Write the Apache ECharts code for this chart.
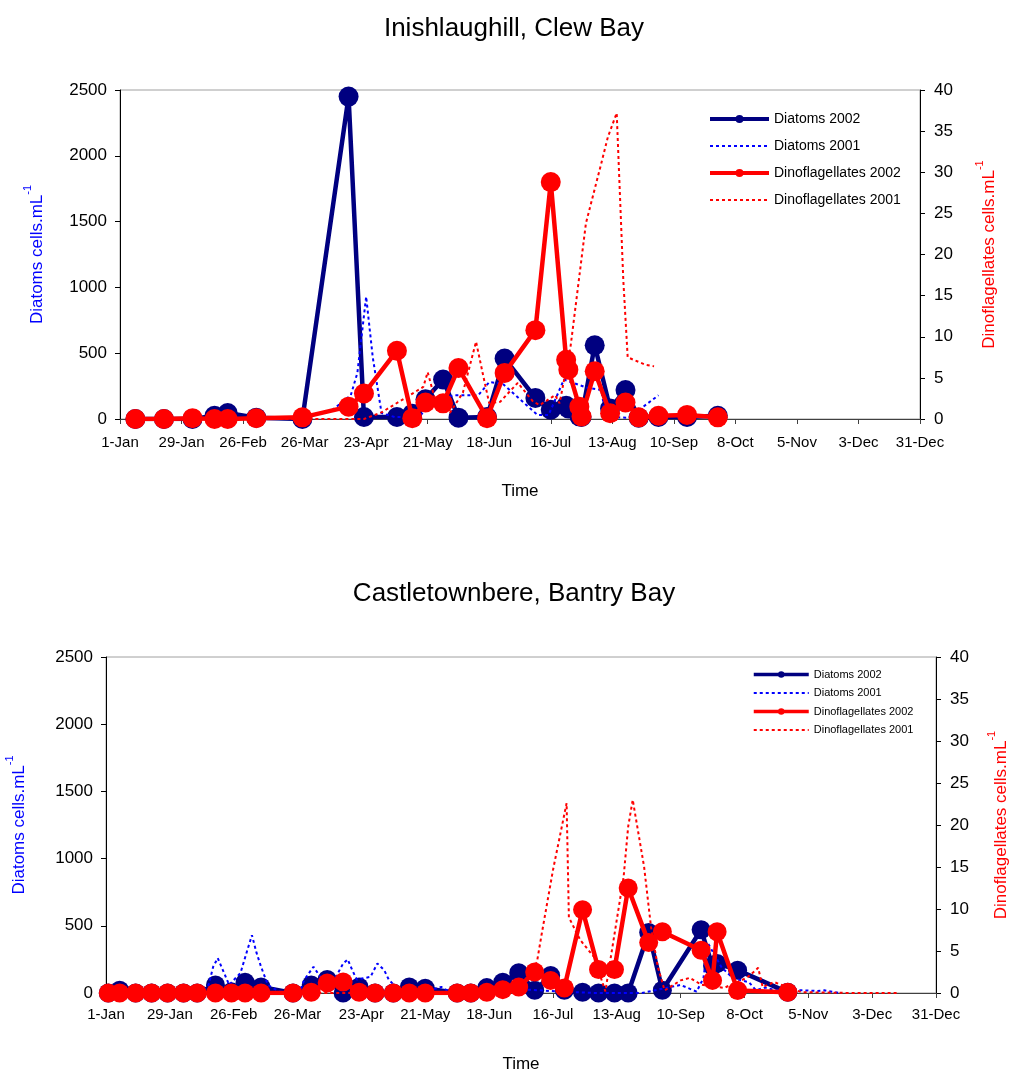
<!DOCTYPE html>
<html>
<head>
<meta charset="utf-8">
<script src="https://cdn.jsdelivr.net/npm/echarts@6/dist/echarts.min.js"></script>
<style>html,body{margin:0;padding:0;background:#fff;}#c{width:1011px;height:1070px;}</style>
</head>
<body>
<div id="c"></div>
<script>
// ---------- tick labels (x axis: day of year, every 28 days) ----------
const xTickLabels = ['1-Jan','29-Jan','26-Feb','26-Mar','23-Apr','21-May','18-Jun','16-Jul','13-Aug','10-Sep','8-Oct','5-Nov','3-Dec','31-Dec'];
const seriesNames = ['Diatoms 2002','Diatoms 2001','Dinoflagellates 2002','Dinoflagellates 2001'];
const titles = ['Inishlaughill, Clew Bay','Castletownbere, Bantry Bay'];

// ---------- Inishlaughill, Clew Bay ----------
const topDays2002      = [7,20,33,43,49,62,83,104,111,126,133,139,147,154,167,175,189,196,203,204,209,210,216,223,230,236,245,258,272];
const topDiatoms2002   = [0,0,0,25,45,10,0,2450,15,15,40,150,300,10,15,460,160,70,100,80,20,15,560,80,220,10,15,15,25];
const topDino2002      = [0,0,0.1,0,0,0.1,0.2,1.5,3.1,8.3,0.1,2.0,1.9,6.2,0.1,5.6,10.8,28.8,7.2,6.0,1.5,0.3,5.8,0.7,2.0,0.2,0.4,0.5,0.2];
const topDiatoms2001Days = [7,36,64,82,96,105,108,112,115,119,125,136,143,152,163,168,174,190,195,202,212,219,221,231,237,245];
const topDiatoms2001     = [0,0,0,5,60,180,350,930,470,45,15,15,145,180,180,280,270,30,30,300,240,220,15,10,80,180];
const topDino2001Days  = [7,70,97,111,119,138,140,143,150,156,162,165,168,173,181,188,191,198,200,205,212,219,222,226,229,231,239,243];
const topDino2001      = [0,0,0,0,0.8,3.9,5.7,2.7,0.7,3.2,9.4,5.6,1.9,2.1,4.4,2.1,1.7,2.9,1.9,8.8,23.8,31.1,34.3,37.2,16.9,7.5,6.6,6.4];

// ---------- Castletownbere, Bantry Bay ----------
const botDays2002      = [1,6,13,20,27,34,40,48,55,61,68,82,90,97,104,111,118,126,133,140,154,160,167,174,181,188,195,201,209,216,223,229,238,244,261,266,268,277,299];
const botDiatoms2002   = [0,20,0,0,0,0,0,60,10,80,45,0,60,100,0,45,0,0,45,35,0,0,40,80,150,20,130,20,5,0,0,0,450,20,470,200,220,170,5];
const botDino2002      = [0,0,0,0,0,0,0,0,0,0,0,0,0.1,1.2,1.3,0.1,0,0,0,0,0,0,0.1,0.4,0.7,2.5,1.5,0.6,9.9,2.8,2.8,12.5,6.0,7.3,5.1,1.5,7.3,0.3,0.1];
const botDiatoms2001Days = [1,19,41,45,47,49,51,54,59,62,64,66,68,71,76,85,87,91,94,98,104,106,108,110,116,119,122,124,129,140,147,151,165,180,190,200,215,235,252,259,262,264,270,275,282,285,289,294,306,312,315,322];
const botDiatoms2001     = [0,0,0,60,195,260,180,60,150,320,430,300,195,60,10,10,100,195,120,30,220,250,170,100,120,220,170,100,10,10,45,5,10,30,20,10,0,0,60,10,110,370,190,110,80,20,40,20,20,15,20,0];
const botDino2001Days  = [1,85,151,173,183,189,191,196,199,202,203,208,214,219,227,229,231,233,236,239,242,245,252,256,261,271,281,284,286,288,293,305,327,348];
const botDino2001      = [0,0,0,0.3,1.2,3.7,6.9,14.6,18.6,22.6,9.0,6.3,4.3,0.2,13.8,19.8,23.0,19.8,15.0,7.9,3.1,0.3,1.5,1.8,1.0,0.6,1.8,2.5,3.0,0.7,1.3,0.1,0,0];

const FONT = "'Liberation Sans', Arial, Helvetica, sans-serif";
const NAVY = '#000080', BLUE = '#0000ff', RED = '#ff0000';

function zip(xs, ys) { return xs.map((x, i) => [x, ys[i]]); }

const chart = echarts.init(document.getElementById('c'), null, {renderer: 'canvas'});

const grids = [
  {left: 120, top: 90, width: 800, height: 329, show: true, borderColor: '#a0a0a0', borderWidth: 1,
   containLabel: false, outerBoundsMode: 'none'},
  {left: 106, top: 657, width: 830, height: 336, show: true, borderColor: '#a0a0a0', borderWidth: 1,
   containLabel: false, outerBoundsMode: 'none'}
];

function xAxisFor(gi, nameGap, margin) {
  return {
    type: 'value', gridIndex: gi, min: 0, max: 364, interval: 28,
    name: 'Time', nameLocation: 'middle', nameGap: nameGap,
    nameTextStyle: {fontFamily: FONT, fontSize: 17, color: '#000'},
    axisLine: {show: true, onZero: false, lineStyle: {color: '#404040', width: 1}},
    axisTick: {show: true, length: 5, lineStyle: {color: '#404040'}},
    axisLabel: {fontFamily: FONT, fontSize: 15, color: '#000', margin: margin,
      formatter: v => xTickLabels[Math.round(v / 28)] || ''},
    splitLine: {show: false}
  };
}
function yAxisFor(gi, side, max, interval, label, color, nameGap) {
  return {
    type: 'value', gridIndex: gi, position: side, min: 0, max: max, interval: interval,
    name: '{b|' + label + '}{s|-1}', nameLocation: 'middle', nameRotate: 90, nameGap: nameGap,
    nameTextStyle: {fontFamily: FONT, color: color,
      rich: {
        b: {fontFamily: FONT, fontSize: 17, color: color, lineHeight: 24, verticalAlign: 'bottom'},
        s: {fontFamily: FONT, fontSize: 11, color: color, lineHeight: 12, verticalAlign: 'top'}
      }},
    axisLine: {show: true, onZero: false, lineStyle: {color: '#000', width: 1}},
    axisTick: {show: true, length: 5, lineStyle: {color: '#000'}},
    axisLabel: {fontFamily: FONT, fontSize: 17, color: '#000', margin: side === 'left' ? 13 : 14,
      formatter: v => String(v)},
    splitLine: {show: false}
  };
}

function seriesFor(gi, d02, diat02, dino02, d01a, diat01, d01b, dino01, symSize) {
  const xi = gi, yl = gi * 2, yr = gi * 2 + 1;
  return [
    {name: seriesNames[0], type: 'line', xAxisIndex: xi, yAxisIndex: yl, data: zip(d02, diat02),
     symbol: 'circle', symbolSize: symSize, showSymbol: true,
     lineStyle: {color: NAVY, width: 4.5}, itemStyle: {color: NAVY}, z: 2},
    {name: seriesNames[1], type: 'line', xAxisIndex: xi, yAxisIndex: yl, data: zip(d01a, diat01),
     symbol: 'none', lineStyle: {color: BLUE, width: 2, type: [3, 3]}, itemStyle: {color: BLUE}, z: 3},
    {name: seriesNames[2], type: 'line', xAxisIndex: xi, yAxisIndex: yr, data: zip(d02, dino02),
     symbol: 'circle', symbolSize: symSize, showSymbol: true,
     lineStyle: {color: RED, width: 4.5}, itemStyle: {color: RED}, z: 4},
    {name: seriesNames[3], type: 'line', xAxisIndex: xi, yAxisIndex: yr, data: zip(d01b, dino01),
     symbol: 'none', lineStyle: {color: RED, width: 2, type: [3, 3]}, itemStyle: {color: RED}, z: 5}
  ];
}

function legendData(thick) {
  return [
    {name: seriesNames[0], lineStyle: {width: thick}},
    {name: seriesNames[1], itemStyle: {opacity: 0}, lineStyle: {width: 2, type: [3, 3]}},
    {name: seriesNames[2], lineStyle: {width: thick}},
    {name: seriesNames[3], itemStyle: {opacity: 0}, lineStyle: {width: 2, type: [3, 3]}}
  ];
}

const option = {
  backgroundColor: '#fff',
  animation: false,
  title: [
    {text: titles[0], left: 509, top: 11, textAlign: 'center',
     textStyle: {fontFamily: FONT, fontSize: 26, fontWeight: 'normal', color: '#000'}},
    {text: titles[1], left: 509, top: 576, textAlign: 'center',
     textStyle: {fontFamily: FONT, fontSize: 26, fontWeight: 'normal', color: '#000'}}
  ],
  legend: [
    {data: legendData(4), orient: 'vertical', left: 708, top: 112, padding: 0, itemWidth: 59, itemHeight: 10, itemGap: 13,
     textStyle: {fontFamily: FONT, fontSize: 14, color: '#000'}, selectedMode: false},
    {data: legendData(3.5), orient: 'vertical', left: 752, top: 669, padding: 0, itemWidth: 55, itemHeight: 8, itemGap: 7.5,
     textStyle: {fontFamily: FONT, fontSize: 11, color: '#000'}, selectedMode: false}
  ],
  grid: grids,
  xAxis: [xAxisFor(0, 64, 16), xAxisFor(1, 63, 14)],
  yAxis: [
    yAxisFor(0, 'left', 2500, 500, 'Diatoms cells.mL', BLUE, 74),
    yAxisFor(0, 'right', 40, 5, 'Dinoflagellates cells.mL', RED, 54),
    yAxisFor(1, 'left', 2500, 500, 'Diatoms cells.mL', BLUE, 78),
    yAxisFor(1, 'right', 40, 5, 'Dinoflagellates cells.mL', RED, 50)
  ],
  series: [].concat(
    seriesFor(0, topDays2002, topDiatoms2002, topDino2002, topDiatoms2001Days, topDiatoms2001, topDino2001Days, topDino2001, 20),
    seriesFor(1, botDays2002, botDiatoms2002, botDino2002, botDiatoms2001Days, botDiatoms2001, botDino2001Days, botDino2001, 19)
  )
};
chart.setOption(option);
</script>
</body>
</html>
